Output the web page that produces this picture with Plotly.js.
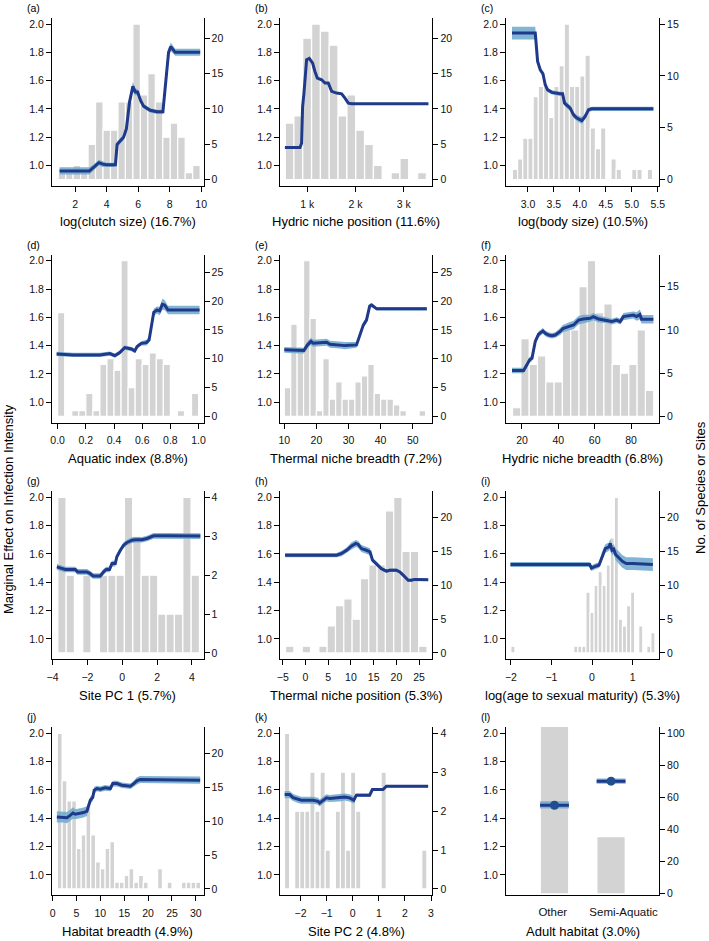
<!DOCTYPE html>
<html><head><meta charset="utf-8">
<script src="https://cdn.plot.ly/plotly-3.0.1.min.js"></script>
<style>html,body{margin:0;padding:0;background:#fff}#chart{width:709px;height:941px}</style>
</head><body><div id="chart"></div>
<script>
// ---------------- DATA ----------------
const yTicks = [1.0, 1.2, 1.4, 1.6, 1.8, 2.0];

// (a) log(clutch size)
const aBinX = [1.15, 1.625, 2.1, 2.575, 3.05, 3.525, 4.0, 4.475, 4.95, 5.425, 5.9, 6.375, 6.85, 7.325, 7.8, 8.275, 8.75, 9.225, 9.7];
const aBinN = [1, 1, 2, 1, 5, 11, 7, 7, 11, 11, 22, 12, 15, 11, 6, 8, 6, 1, 2];
const aLineX = [1.0, 2.9, 3.2, 3.5, 3.75, 4.0, 4.55, 4.66, 5.07, 5.25, 5.45, 5.66, 5.81, 5.96, 6.15, 6.34, 6.76, 7.19, 7.57, 7.7, 7.93, 8.07, 8.35, 9.94];
const aLineY = [0.962, 0.962, 0.99, 1.02, 1.01, 1.005, 1.005, 1.15, 1.2, 1.26, 1.45, 1.56, 1.52, 1.52, 1.46, 1.42, 1.39, 1.38, 1.38, 1.55, 1.8, 1.84, 1.8, 1.8];
const aLineE = [0.025, 0.025, 0.02, 0.02, 0.02, 0.015, 0.015, 0.02, 0.02, 0.02, 0.025, 0.03, 0.025, 0.02, 0.02, 0.015, 0.015, 0.015, 0.015, 0.02, 0.025, 0.03, 0.025, 0.025];
const aXTicks = [2, 4, 6, 8, 10];

// (b) Hydric niche position
const bBinX = [633, 813, 996, 1180, 1363, 1546, 1729, 1913, 2096, 2279, 2463, 2646, 2829, 3013, 3196, 3379];
const bBinN = [8, 9, 20, 22, 21, 19, 9, 12, 7, 5, 2, 0, 1, 3, 0, 1];
const bLineX = [536, 848, 882, 903, 931, 952, 986, 1042, 1111, 1159, 1208, 1298, 1367, 1436, 1505, 1609, 1713, 1782, 1851, 1920, 3512];
const bLineY = [1.127, 1.127, 1.158, 1.417, 1.512, 1.594, 1.748, 1.757, 1.724, 1.665, 1.618, 1.606, 1.583, 1.583, 1.524, 1.512, 1.507, 1.476, 1.441, 1.436, 1.436];
const bLineE = [0.006, 0.006, 0.006, 0.006, 0.006, 0.006, 0.006, 0.006, 0.006, 0.006, 0.006, 0.006, 0.006, 0.006, 0.006, 0.006, 0.006, 0.006, 0.006, 0.006, 0.006];
const bXTicks = [1000, 2000, 3000];
const bXTickText = ['1 k', '2 k', '3 k'];

// (c) log(body size)
const cBinX = [2.75, 2.85, 2.95, 3.05, 3.15, 3.25, 3.35, 3.45, 3.55, 3.65, 3.75, 3.85, 3.95, 4.05, 4.15, 4.25, 4.35, 4.45, 4.55, 4.65, 4.75, 4.85, 4.95, 5.05, 5.15, 5.25, 5.35];
const cBinN = [1, 2, 4, 4, 8, 9, 9, 6, 9, 11, 15, 9, 9, 10, 12, 5, 3, 5, 0, 2, 1, 0, 0, 1, 1, 0, 1];
const cLineX = [2.692, 3.141, 3.186, 3.237, 3.288, 3.333, 3.378, 3.462, 3.622, 3.667, 3.705, 3.763, 3.814, 3.878, 3.942, 4.038, 4.103, 4.167, 4.231, 5.417];
const cLineY = [1.936, 1.936, 1.736, 1.677, 1.649, 1.571, 1.535, 1.517, 1.507, 1.507, 1.441, 1.422, 1.406, 1.358, 1.335, 1.318, 1.347, 1.394, 1.401, 1.401];
const cLineE = [0.045, 0.045, 0.02, 0.02, 0.015, 0.015, 0.015, 0.015, 0.015, 0.015, 0.02, 0.02, 0.02, 0.02, 0.02, 0.025, 0.02, 0.015, 0.015, 0.015];
const cXTicks = [3.0, 3.5, 4.0, 4.5, 5.0, 5.5];

// (d) Aquatic index
const dBinX = [0.025, 0.075, 0.125, 0.175, 0.225, 0.275, 0.325, 0.375, 0.425, 0.475, 0.525, 0.575, 0.625, 0.675, 0.725, 0.775, 0.825, 0.875, 0.925, 0.975];
const dBinN = [18, 0, 1, 1, 4, 1, 9, 10, 8, 27, 5, 10, 9, 11, 10, 9, 0, 1, 0, 4];
const dLineX = [-0.007, 0.111, 0.30, 0.37, 0.406, 0.441, 0.476, 0.5, 0.524, 0.547, 0.564, 0.594, 0.63, 0.649, 0.665, 0.682, 0.705, 0.724, 0.743, 0.759, 0.783, 1.007];
const dLineY = [1.341, 1.334, 1.334, 1.344, 1.329, 1.351, 1.386, 1.381, 1.376, 1.362, 1.393, 1.416, 1.421, 1.44, 1.546, 1.635, 1.652, 1.645, 1.692, 1.687, 1.652, 1.652];
const dLineE = [0.015, 0.015, 0.015, 0.015, 0.015, 0.015, 0.015, 0.015, 0.015, 0.015, 0.015, 0.015, 0.02, 0.02, 0.02, 0.025, 0.025, 0.03, 0.04, 0.035, 0.03, 0.03];
const dXTicks = [0.0, 0.2, 0.4, 0.6, 0.8, 1.0];

// (e) Thermal niche breadth
const eBinX = [11, 13, 15, 17, 19, 21, 23, 25, 27, 29, 31, 33, 35, 37, 39, 41, 43, 45, 47, 49, 51, 53];
const eBinN = [5, 16, 12, 27, 17, 1, 10, 3, 6, 3, 3, 6, 7, 9, 4, 3, 3, 2, 1, 0, 0, 1];
const eLineX = [10, 14.9, 16.1, 17.2, 18.3, 19.0, 23.2, 24.2, 27.4, 28.9, 32.5, 33.6, 34.6, 35.6, 36.6, 37.2, 38.8, 54.4];
const eLineY = [1.37, 1.365, 1.365, 1.405, 1.43, 1.417, 1.424, 1.41, 1.405, 1.40, 1.405, 1.48, 1.545, 1.58, 1.68, 1.687, 1.66, 1.66];
const eLineE = [0.02, 0.02, 0.02, 0.025, 0.025, 0.025, 0.025, 0.025, 0.025, 0.025, 0.02, 0.02, 0.02, 0.02, 0.015, 0.015, 0.012, 0.012];
const eXTicks = [10, 20, 30, 40, 50];

// (f) Hydric niche breadth
const fBinX = [17.1, 21.67, 26.24, 30.81, 35.38, 39.95, 44.52, 49.09, 53.66, 58.23, 62.8, 67.37, 71.94, 76.51, 81.08, 85.65, 90.22];
const fBinN = [1, 9, 6, 7, 4, 4, 10, 10, 15, 18, 12, 13, 6, 5, 6, 10, 3];
const fLineX = [14.5, 20.9, 22.7, 24.2, 25.5, 27.3, 29.1, 31.5, 32.8, 34.6, 36.5, 38.3, 41.0, 42.5, 45.6, 48.4, 51.1, 53.8, 57.5, 59.3, 62.1, 66.6, 69.4, 72.1, 74.0, 75.8, 81.3, 83.1, 84.9, 85.8, 92.3];
const fLineY = [1.224, 1.224, 1.264, 1.30, 1.31, 1.43, 1.48, 1.504, 1.487, 1.475, 1.47, 1.475, 1.50, 1.52, 1.534, 1.546, 1.58, 1.588, 1.593, 1.605, 1.588, 1.58, 1.57, 1.58, 1.57, 1.605, 1.616, 1.605, 1.62, 1.586, 1.586];
const fLineE = [0.02, 0.02, 0.02, 0.02, 0.02, 0.02, 0.02, 0.02, 0.02, 0.02, 0.02, 0.02, 0.025, 0.025, 0.03, 0.03, 0.03, 0.03, 0.025, 0.025, 0.025, 0.02, 0.02, 0.02, 0.02, 0.025, 0.025, 0.03, 0.035, 0.03, 0.03];
const fXTicks = [20, 40, 60, 80];

// (g) Site PC 1
const gBinX = [-3.46, -2.98, -2.50, -2.03, -1.55, -1.07, -0.59, -0.12, 0.36, 0.84, 1.32, 1.80, 2.27, 2.75, 3.23, 3.71, 4.19];
const gBinN = [4, 2, 0, 2, 0, 2, 2, 2, 4, 3, 2, 2, 1, 1, 1, 4, 2];
const gLineX = [-3.75, -3.46, -3.27, -2.70, -2.56, -2.03, -1.84, -1.68, -1.26, -1.07, -0.92, -0.73, -0.59, -0.40, -0.31, -0.11, 0.08, 0.27, 0.56, 0.75, 1.13, 1.42, 1.80, 2.56, 4.48];
const gLineY = [1.508, 1.496, 1.49, 1.49, 1.473, 1.473, 1.461, 1.444, 1.444, 1.473, 1.49, 1.49, 1.532, 1.532, 1.58, 1.626, 1.662, 1.681, 1.697, 1.70, 1.70, 1.709, 1.728, 1.728, 1.726];
const gLineE = [0.02, 0.02, 0.02, 0.02, 0.02, 0.02, 0.02, 0.02, 0.02, 0.02, 0.02, 0.02, 0.02, 0.02, 0.02, 0.02, 0.02, 0.02, 0.02, 0.02, 0.02, 0.02, 0.02, 0.02, 0.02];
const gXTicks = [-4, -2, 0, 2, 4];

// (h) Thermal niche position
const hBinX = [-3.46, -1.63, 0.20, 2.03, 3.86, 5.69, 7.52, 9.35, 11.18, 13.01, 14.84, 16.67, 18.5, 20.33, 22.16, 23.99, 25.82];
const hBinN = [1, 0, 1, 0, 1, 4, 7, 8, 5, 11, 13, 13, 21, 23, 15, 15, 1];
const hLineX = [-4.49, 6.85, 7.95, 9.05, 10.14, 11.09, 11.6, 12.3, 13.4, 14.2, 14.75, 15.6, 16.7, 17.8, 18.55, 20.0, 20.75, 21.5, 22.6, 23.3, 24.0, 27.0];
const hLineY = [1.591, 1.591, 1.603, 1.626, 1.657, 1.674, 1.667, 1.638, 1.626, 1.615, 1.556, 1.532, 1.496, 1.478, 1.485, 1.485, 1.473, 1.45, 1.414, 1.414, 1.42, 1.418];
const hLineE = [0.015, 0.015, 0.02, 0.02, 0.025, 0.025, 0.025, 0.025, 0.025, 0.025, 0.015, 0.015, 0.012, 0.012, 0.012, 0.012, 0.012, 0.012, 0.01, 0.01, 0.01, 0.01];
const hXTicks = [-5, 0, 5, 10, 15, 20, 25];

// (i) log(age to sexual maturity)
const iBinX = [-1.95, -0.4, -0.3, -0.2, -0.1, 0.0, 0.1, 0.2, 0.3, 0.4, 0.5, 0.6, 0.7, 0.8, 0.9, 1.0, 1.1, 1.2, 1.3, 1.4, 1.5];
const iBinN = [1, 1, 1, 1, 9, 6, 10, 12, 10, 13, 17, 23, 5, 4, 7, 9, 0, 4, 0, 1, 3];
const iLineX = [-2.01, -0.057, -0.016, 0.04, 0.107, 0.17, 0.254, 0.328, 0.418, 0.45, 0.49, 0.533, 0.58, 0.64, 0.746, 0.844, 1.01, 1.50];
const iLineY = [1.525, 1.525, 1.50, 1.508, 1.515, 1.52, 1.591, 1.638, 1.65, 1.674, 1.626, 1.634, 1.596, 1.58, 1.548, 1.532, 1.532, 1.525];
const iLineE = [0.018, 0.018, 0.02, 0.02, 0.02, 0.02, 0.03, 0.03, 0.03, 0.035, 0.035, 0.035, 0.04, 0.045, 0.045, 0.045, 0.045, 0.045];
const iXTicks = [-2, -1, 0, 1];

// (j) Habitat breadth
const jBinX = [1.5, 2.5, 3.5, 4.5, 5.5, 6.5, 7.5, 8.5, 9.5, 10.5, 11.5, 12.5, 13.5, 14.5, 15.5, 16.5, 17.5, 18.5, 19.5, 20.5, 21.5, 22.5, 23.5, 24.5, 25.5, 26.5, 27.5, 28.5, 29.5, 30.5];
const jBinN = [23, 16, 13, 13, 6, 8, 12, 8, 4, 3, 6, 7, 1, 1, 2, 3, 1, 2, 1, 0, 0, 3, 0, 1, 0, 0, 1, 1, 1, 1];
const jLineX = [0.9, 2.3, 3.0, 3.7, 4.26, 4.75, 5.8, 6.5, 7.2, 7.5, 7.9, 8.4, 8.72, 9.28, 10.0, 11.0, 12.1, 12.6, 13.5, 14.5, 16.3, 17.0, 17.65, 18.35, 30.9];
const jLineY = [1.409, 1.409, 1.404, 1.42, 1.437, 1.428, 1.433, 1.44, 1.45, 1.485, 1.527, 1.546, 1.598, 1.61, 1.605, 1.615, 1.61, 1.645, 1.645, 1.633, 1.626, 1.645, 1.664, 1.674, 1.669];
const jLineE = [0.04, 0.04, 0.04, 0.04, 0.04, 0.035, 0.035, 0.035, 0.035, 0.03, 0.025, 0.025, 0.025, 0.02, 0.02, 0.02, 0.02, 0.02, 0.02, 0.02, 0.02, 0.02, 0.025, 0.025, 0.025];
const jXTicks = [0, 5, 10, 15, 20, 25, 30];

// (k) Site PC 2
const kBinX = [-2.52, -2.13, -1.935, -1.74, -1.545, -1.35, -1.155, -0.96, -0.57, -0.375, -0.18, 0.015, 0.21, 1.185, 2.745];
const kBinN = [4, 2, 2, 2, 3, 2, 3, 1, 2, 3, 1, 3, 2, 3, 1];
const kLineX = [-2.61, -2.42, -2.29, -2.10, -1.97, -1.52, -1.33, -1.27, -1.14, -1.01, -0.88, -0.50, -0.31, -0.12, 0.04, 0.14, 0.65, 0.75, 1.16, 1.29, 2.89];
const kLineY = [1.567, 1.567, 1.546, 1.532, 1.527, 1.527, 1.52, 1.508, 1.527, 1.544, 1.539, 1.544, 1.55, 1.544, 1.527, 1.563, 1.563, 1.603, 1.603, 1.626, 1.626];
const kLineE = [0.025, 0.025, 0.025, 0.025, 0.025, 0.025, 0.025, 0.025, 0.025, 0.025, 0.025, 0.025, 0.025, 0.025, 0.025, 0.012, 0.012, 0.01, 0.01, 0.008, 0.008];
const kXTicks = [-2, -1, 0, 1, 2, 3];

// (l) Adult habitat
const lCats = ['Other', 'Semi-Aquatic'];
const lCounts = [104, 35];
const lEffect = [1.492, 1.662];
const lLow = [1.468, 1.643];
const lHigh = [1.52, 1.68];

const titles = ['log(clutch size) (16.7%)', 'Hydric niche position (11.6%)', 'log(body size) (10.5%)',
  'Aquatic index (8.8%)', 'Thermal niche breadth (7.2%)', 'Hydric niche breadth (6.8%)',
  'Site PC 1 (5.7%)', 'Thermal niche position (5.3%)', 'log(age to sexual maturity) (5.3%)',
  'Habitat breadth (4.9%)', 'Site PC 2 (4.8%)', 'Adult habitat (3.0%)'];
const labels = ['(a)', '(b)', '(c)', '(d)', '(e)', '(f)', '(g)', '(h)', '(i)', '(j)', '(k)', '(l)'];

// ---------------- LAYOUT / STYLE ----------------
const W = 709, H = 941;
const colX = [[52, 203.5], [280, 432.3], [506, 659]];
const rowBase = [24, 260.7, 497.3, 733.3];
const LEFT_RANGE = [0.856, 2.044];
const FONT = 'Liberation Sans, Arial, Helvetica, sans-serif';
const barColor = '#d3d3d3';
const lineColor = '#1f3a8a';
const bandColor = 'rgba(108,168,205,0.85)';
const catLabelPos = [-0.03, 1.22];   // where R placed the two category labels

const panels = [
  {bx: aBinX, bn: aBinN, lx: aLineX, ly: aLineY, le: aLineE, xr: [0.52, 10.15], xt: aXTicks, rd: 5},
  {bx: bBinX, bn: bBinN, lx: bLineX, ly: bLineY, le: bLineE, xr: [434, 3593], xt: bXTicks, xtt: bXTickText, rd: 5},
  {bx: cBinX, bn: cBinN, lx: cLineX, ly: cLineY, le: cLineE, xr: [2.577, 5.525], xt: cXTicks, fmt: '.1f', rd: 5},
  {bx: dBinX, bn: dBinN, lx: dLineX, ly: dLineY, le: dLineE, xr: [-0.04, 1.035], xt: dXTicks, fmt: '.1f', rd: 5},
  {bx: eBinX, bn: eBinN, lx: eLineX, ly: eLineY, le: eLineE, xr: [8.66, 56.1], xt: eXTicks, rd: 5},
  {bx: fBinX, bn: fBinN, lx: fLineX, ly: fLineY, le: fLineE, xr: [11.2, 95.4], xt: fXTicks, rd: 5},
  {bx: gBinX, bn: gBinN, lx: gLineX, ly: gLineY, le: gLineE, xr: [-4.03, 4.66], xt: gXTicks, rd: 1},
  {bx: hBinX, bn: hBinN, lx: hLineX, ly: hLineY, le: hLineE, xr: [-5.6, 27.9], xt: hXTicks, rd: 5},
  {bx: iBinX, bn: iBinN, lx: iLineX, ly: iLineY, le: iLineE, xr: [-2.12, 1.65], xt: iXTicks, rd: 5},
  {bx: jBinX, bn: jBinN, lx: jLineX, ly: jLineY, le: jLineE, xr: [-0.12, 31.6], xt: jXTicks, rd: 5},
  {bx: kBinX, bn: kBinN, lx: kLineX, ly: kLineY, le: kLineE, xr: [-2.79, 3.05], xt: kXTicks, rd: 1},
  {cat: true, bx: [0, 1], bn: lCounts, bw: 0.48, xr: [-0.857, 1.847], xt: catLabelPos, xtt: lCats, rd: 20, rr: [-1.2, 103.9]}
];

function minDiff(a) { let m = Infinity; for (let i = 1; i < a.length; i++) m = Math.min(m, a[i] - a[i - 1]); return m; }

const traces = [];
const annotations = [];
const layout = {
  width: W, height: H, margin: {l: 0, r: 0, t: 0, b: 0},
  paper_bgcolor: '#fff', plot_bgcolor: 'rgba(0,0,0,0)', showlegend: false,
  barmode: 'overlay', font: {family: FONT, color: '#000', size: 10.5}
};

const axisCommon = {
  showline: true, linecolor: '#000', linewidth: 1, mirror: false,
  ticks: 'outside', ticklen: 5, tickwidth: 1, tickcolor: '#000',
  showgrid: false, zeroline: false, fixedrange: true,
  tickfont: {family: FONT, size: 10.5, color: '#111'}
};

panels.forEach((P, p) => {
  const r = Math.floor(p / 3), c = p % 3;
  const xid = p === 0 ? '' : String(p + 1);
  const yA = 2 * p + 1, yB = 2 * p + 2;
  const yAid = yA === 1 ? '' : String(yA);
  const top = rowBase[r] - 6.2, bot = rowBase[r] + 161.9;
  const xdom = [colX[c][0] / W, colX[c][1] / W];
  const ydom = [1 - bot / H, 1 - top / H];
  const M = Math.max(...P.bn);

  const xa = Object.assign({}, axisCommon, {domain: xdom, anchor: 'y' + yAid, range: P.xr,
    tickmode: 'array', tickvals: P.xt, ticklabelstandoff: 3});
  if (P.xtt) xa.ticktext = P.xtt;
  if (P.fmt) xa.tickformat = P.fmt;
  if (P.cat) {
    xa.tickcolor = 'rgba(0,0,0,0)';
    xa.tickfont = {family: FONT, size: 11.5, color: '#111'};
    xa.ticklabelstandoff = 1;
  }
  layout['xaxis' + xid] = xa;

  layout['yaxis' + yAid] = Object.assign({}, axisCommon, {domain: ydom, anchor: 'x' + xid, side: 'right',
    range: P.rr || [-0.04 * M, 1.04 * M], tick0: 0, dtick: P.rd});
  layout['yaxis' + yB] = Object.assign({}, axisCommon, {domain: ydom, anchor: 'x' + xid, side: 'left',
    overlaying: 'y' + yAid, range: LEFT_RANGE, tickmode: 'array', tickvals: yTicks, tickformat: '.1f'});

  traces.push({type: 'bar', x: P.bx, y: P.bn, width: P.bw || minDiff(P.bx),
    xaxis: 'x' + xid, yaxis: 'y' + yAid, hoverinfo: 'skip',
    marker: {color: barColor, line: {color: '#fff', width: P.cat ? 0 : 1.2}}});

  if (!P.cat) {
    const lo = P.ly.map((v, i) => v - P.le[i]);
    const hi = P.ly.map((v, i) => v + P.le[i]);
    traces.push({type: 'scatter', mode: 'lines', x: P.lx.concat(P.lx.slice().reverse()),
      y: hi.concat(lo.slice().reverse()), fill: 'toself', fillcolor: bandColor,
      line: {width: 0, color: bandColor}, xaxis: 'x' + xid, yaxis: 'y' + yB, hoverinfo: 'skip'});
    traces.push({type: 'scatter', mode: 'lines', x: P.lx, y: P.ly,
      line: {color: lineColor, width: 3}, xaxis: 'x' + xid, yaxis: 'y' + yB, hoverinfo: 'skip'});
  } else {
    const hw = 0.255;
    P.bx.forEach((xc, i) => {
      traces.push({type: 'scatter', mode: 'lines', x: [xc - hw, xc + hw, xc + hw, xc - hw, xc - hw],
        y: [lLow[i], lLow[i], lHigh[i], lHigh[i], lLow[i]], fill: 'toself', fillcolor: bandColor,
        line: {width: 0, color: bandColor}, xaxis: 'x' + xid, yaxis: 'y' + yB, hoverinfo: 'skip'});
      traces.push({type: 'scatter', mode: 'lines', x: [xc - hw, xc + hw], y: [lEffect[i], lEffect[i]],
        line: {color: lineColor, width: 3}, xaxis: 'x' + xid, yaxis: 'y' + yB, hoverinfo: 'skip'});
    });
    traces.push({type: 'scatter', mode: 'markers', x: P.bx, y: lEffect,
      marker: {color: '#1f4f8f', size: 9}, xaxis: 'x' + xid, yaxis: 'y' + yB, hoverinfo: 'skip'});
  }

  annotations.push({xref: 'paper', yref: 'paper', x: (colX[c][0] + colX[c][1]) / 2 / W,
    y: 1 - (rowBase[r] + 198) / H, xanchor: 'center', yanchor: 'middle', showarrow: false,
    text: titles[p], font: {family: FONT, size: 13, color: '#000'}});
  annotations.push({xref: 'paper', yref: 'paper', x: (colX[c][0] - 27) / W,
    y: 1 - (rowBase[r] - 16) / H, xanchor: 'left', yanchor: 'middle', showarrow: false,
    text: labels[p], font: {family: FONT, size: 10.5, color: '#000'}});
});

annotations.push({xref: 'paper', yref: 'paper', x: 8 / W, y: 1 - 509 / H, textangle: -90,
  xanchor: 'center', yanchor: 'middle', showarrow: false,
  text: 'Marginal Effect on Infection Intensity', font: {family: FONT, size: 13, color: '#000'}});
annotations.push({xref: 'paper', yref: 'paper', x: 700 / W, y: 1 - 488 / H, textangle: -90,
  xanchor: 'center', yanchor: 'middle', showarrow: false,
  text: 'No. of Species or Sites', font: {family: FONT, size: 13, color: '#000'}});

layout.annotations = annotations;

Plotly.newPlot('chart', traces, layout, {displayModeBar: false, staticPlot: true});
</script>
</body></html>
